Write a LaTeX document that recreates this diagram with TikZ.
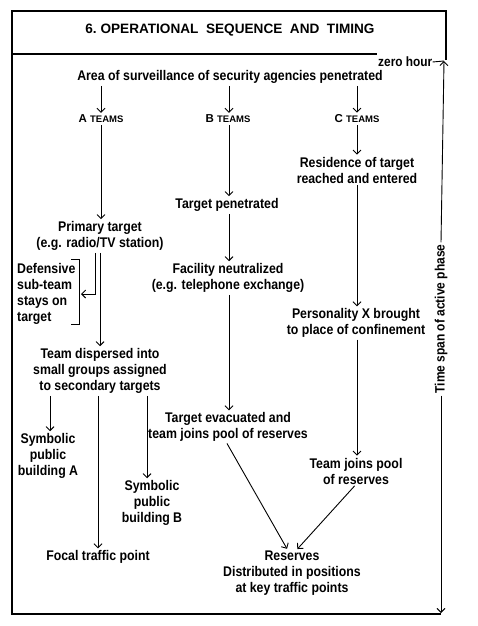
\documentclass[tikz,border=0pt]{standalone}
\usepackage{fontspec}
\setmainfont{Liberation Sans}[FakeStretch=0.88]
\newfontfamily\plainsans{Liberation Sans}
\usetikzlibrary{arrows.meta}
\begin{document}
\begin{tikzpicture}[x=1pt,y=-1pt,
  lbl/.style={font=\fontsize{14}{16}\selectfont\bfseries, align=center, inner sep=0pt},
  teamlbl/.style={font=\plainsans\fontsize{11.5}{12}\selectfont\bfseries, inner sep=0pt},
  titlelbl/.style={font=\plainsans\fontsize{13.6}{16}\selectfont\bfseries, inner sep=0pt},
  arr/.style={-{Straight Barb[length=4pt,width=8pt]}, line width=0.9pt, shorten <=2pt, shorten >=2pt},
  framel/.style={line width=1.2pt}]
\useasboundingbox (0,0) rectangle (477,626);

% frame
\draw[framel] (446,60) -- (446,11) -- (12,11) -- (12,614) -- (441,614);
\draw[framel] (12,54) -- (377,54);

\node[titlelbl] (title) at (230,30) {6.\ OPERATIONAL\ \ SEQUENCE\ \ AND\ \ TIMING};
\node[font=\fontsize{13.5}{14}\selectfont\bfseries, inner sep=0pt, anchor=west] (zh) at (378,62) {zero hour};

% time span
\coordinate (spantop) at (444,61);
\coordinate (spanbot) at (441,613);
\node[font=\fontsize{13.6}{14}\selectfont\bfseries, rotate=90, inner sep=2pt] (span) at (441,319) {Time span of active phase};
\draw[line width=0.9pt] (zh.east) -- (spantop);
\draw[line width=0.9pt, -{Straight Barb[length=4pt,width=8pt]}] (span.east) -- (spantop);
\draw[line width=0.9pt, -{Straight Barb[length=4pt,width=8pt]}] (span.west) -- (spanbot);

% top
\node[lbl] (area) at (230,77) {Area of surveillance of security agencies penetrated};
\node[teamlbl] (ta) at (101,119) {A \fontsize{9.5}{10}\selectfont TEAMS};
\node[teamlbl] (tb) at (228,119) {B \fontsize{9.5}{10}\selectfont TEAMS};
\node[teamlbl] (tc) at (357,119) {C \fontsize{9.5}{10}\selectfont TEAMS};
\coordinate (xa) at (101,0);
\coordinate (xb) at (229,0);
\coordinate (xc) at (357,0);
\draw[arr] (area.south -| xa) -- (ta.north -| xa);
\draw[arr] (area.south -| xb) -- (tb.north -| xb);
\draw[arr] (area.south -| xc) -- (tc.north -| xc);

% A column
\node[lbl] (prim) at (100,236) {Primary target\\(e.g. radio/TV station)};
\node[lbl, align=left, anchor=west] (def) at (17,294) {Defensive\\sub-team\\stays on\\target};
\node[lbl] (disp) at (100,371) {Team dispersed into\\small groups assigned\\to secondary targets};
\node[lbl] (symA) at (48,456) {Symbolic\\public\\building A};
\node[lbl] (symB) at (152,503) {Symbolic\\public\\building B};
\node[lbl] (focal) at (98,557) {Focal traffic point};
\coordinate (bk) at (81,294);
\coordinate (xd) at (95,0);
\coordinate (xp) at (100,0);
\coordinate (xsa) at (50,0);
\coordinate (xf) at (98,0);
\coordinate (xsb) at (147,0);
\draw[arr] (ta.south -| xa) -- (prim.north -| xa);
\draw[line width=0.9pt] (71,259) -- (79,259) -- (79,324) -- (71,324);
\draw[arr, shorten >=0pt] (prim.south -| xd) |- (bk);
\draw[arr] (prim.south -| xp) -- (disp.north -| xp);
\draw[arr] (disp.south -| xsa) -- (symA.north -| xsa);
\draw[arr] (disp.south -| xf) -- (focal.north -| xf);
\draw[arr] (disp.south -| xsb) -- (symB.north -| xsb);

% B column
\node[lbl] (tpen) at (227,205) {Target penetrated};
\node[lbl] (fac) at (228,278) {Facility neutralized\\(e.g. telephone exchange)};
\node[lbl] (tevac) at (228,427) {Target evacuated and\\team joins pool of reserves};
\draw[arr] (tb.south -| xb) -- (tpen.north -| xb);
\draw[arr] (tpen.south -| xb) -- (fac.north -| xb);
\draw[arr] (fac.south -| xb) -- (tevac.north -| xb);

% C column
\node[lbl] (res) at (357,170) {Residence of target\\reached and entered};
\node[lbl] (pers) at (356,323) {Personality X brought\\to place of confinement};
\node[lbl] (tjoin) at (356,471) {Team joins pool\\of reserves};
\draw[arr] (tc.south -| xc) -- (res.north -| xc);
\draw[arr] (res.south -| xc) -- (pers.north -| xc);
\draw[arr] (pers.south -| xc) -- (tjoin.north -| xc);

% reserves
\node[lbl] (resv) at (292,573) {Reserves\\Distributed in positions\\at key traffic points};
\draw[arr] ([xshift=-2pt]tevac.south) -- ([xshift=-4pt]resv.north);
\draw[arr] (tjoin.south) -- ([xshift=4pt]resv.north);
\end{tikzpicture}
\end{document}
